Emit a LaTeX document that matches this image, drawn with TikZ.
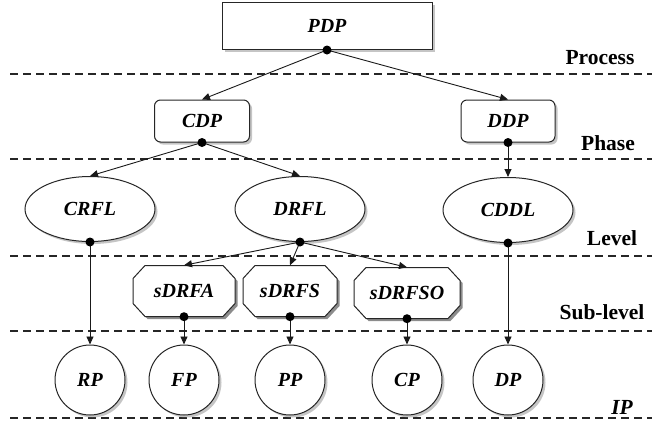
\documentclass[tikz,border=0pt]{standalone}
\usepackage{fontspec}
\setmainfont{Liberation Serif}
\usetikzlibrary{shapes.geometric,shadows,arrows.meta}

\tikzset{
  nodefont/.style={font=\bfseries\itshape\fontsize{20}{23}\selectfont},
  base/.style={draw=black!85, line width=1pt, fill=white, nodefont,
    drop shadow={shadow xshift=2.5pt, shadow yshift=-2.5pt, fill=black!45}},
  sqbox/.style={base, rectangle, minimum width=210pt, minimum height=47pt},
  rbox/.style={base, rectangle, rounded corners=6pt, minimum height=42pt},
  oval/.style={base, ellipse, minimum width=130pt, minimum height=65pt},
  octoshade/.style={fill=black!45},
  octoface/.style={draw=black!85, line width=1pt, fill=white},
  octolabel/.style={nodefont, minimum height=51pt, inner sep=0pt},
  ball/.style={base, circle, minimum size=70pt, inner sep=0pt},
  link/.style={draw=black!90, line width=0.9pt, -{Triangle[length=8pt,width=7pt]}},
  dot/.style={fill=black},
  sep/.style={draw=black!85, line width=1.6pt, dash pattern=on 8pt off 5pt},
  tier/.style={font=\bfseries\fontsize{21.5}{24}\selectfont, anchor=center}
}

% octagonal node: name, x, y, half width, label
\newcommand\octnode[5]{%
  \foreach \st/\dx/\dy in {octoshade/2.5/2.5, octoface/0/0}
    \path[\st] (#2-#4+12+\dx,#3-25.5+\dy) -- (#2+#4-12+\dx,#3-25.5+\dy)
      -- (#2+#4+\dx,#3-12.5+\dy) -- (#2+#4+\dx,#3+12.5+\dy)
      -- (#2+#4-12+\dx,#3+25.5+\dy) -- (#2-#4+12+\dx,#3+25.5+\dy)
      -- (#2-#4+\dx,#3+12.5+\dy) -- (#2-#4+\dx,#3-12.5+\dy) -- cycle;
  \node[octolabel, minimum width=2*#4 pt] (#1) at (#2,#3) {#5};
}

\begin{document}
\begin{tikzpicture}[x=1pt, y=-1pt]
\useasboundingbox (0,0) rectangle (660,426);

% layer separators
\foreach \yy in {74,159,256,331,418}
  \path[sep] (10,\yy) -- (652,\yy);

% layer names
\node[tier] (tProcess) at (600,58) {Process};
\node[tier] (tPhase) at (608,143) {Phase};
\node[tier] (tLevel) at (612,238) {Level};
\node[tier] (tSub) at (602,312) {Sub-level};
\node[tier, font=\bfseries\itshape\fontsize{21.5}{24}\selectfont] (tIP) at (622,407) {IP};

% process
\node[sqbox] (PDP) at (327,26) {PDP};

% phases
\node[rbox, minimum width=95pt] (CDP) at (202,121) {CDP};
\node[rbox, minimum width=94pt] (DDP) at (508,121) {DDP};

% levels
\node[oval] (CRFL) at (90,209) {CRFL};
\node[oval] (DRFL) at (300,209) {DRFL};
\node[oval] (CDDL) at (508,210) {CDDL};

% sub-levels
\octnode{sDRFA}{184}{291}{51}{sDRFA}
\octnode{sDRFS}{290}{291}{47}{sDRFS}
\octnode{sDRFSO}{407}{293}{53}{sDRFSO}

% processes at the IP layer
\node[ball] (RP) at (90,380) {RP};
\node[ball] (FP) at (184,380) {FP};
\node[ball] (PP) at (290,380) {PP};
\node[ball] (CP) at (407,380) {CP};
\node[ball] (DP) at (508,380) {DP};

% connectors
\draw[link] (PDP.south) -- (CDP.north);
\draw[link] (PDP.south) -- (DDP.north);
\draw[link] (CDP.south) -- (CRFL.north);
\draw[link] (CDP.south) -- (DRFL.north);
\draw[link] (DDP.south) -- (CDDL.north);
\draw[link] (CRFL.south) -- (RP.north);
\draw[link] (DRFL.south) -- (sDRFA.north);
\draw[link] (DRFL.south) -- (sDRFS.north);
\draw[link] (DRFL.south) -- (sDRFSO.north);
\draw[link] (CDDL.south) -- (DP.north);
\draw[link] (sDRFA.south) -- (FP.north);
\draw[link] (sDRFS.south) -- (PP.north);
\draw[link] (sDRFSO.south) -- (CP.north);

% junction dots
\foreach \n in {PDP,CDP,DDP,CRFL,DRFL,CDDL,sDRFA,sDRFS,sDRFSO}
  \fill[dot] (\n.south) circle (4.5pt);
\end{tikzpicture}
\end{document}
